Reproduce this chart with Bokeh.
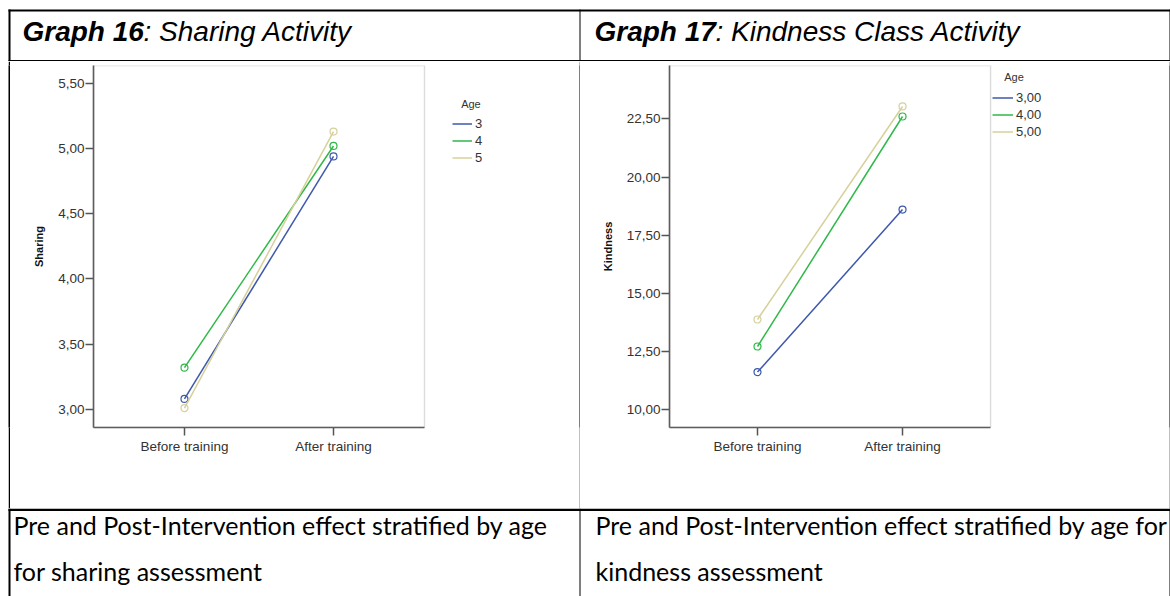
from bokeh.plotting import figure
from bokeh.layouts import column, row
from bokeh.models import (Range1d, FixedTicker, Legend, LegendItem,
                          BoxAnnotation, Label, CustomJSTickFormatter)
from bokeh.embed import file_html
from bokeh.resources import INLINE

# ---------------- data ----------------
phases = ["Before training", "After training"]

sharing_labels = ["3", "4", "5"]
sharing_age3 = [3.08, 4.94]
sharing_age4 = [3.32, 5.02]
sharing_age5 = [3.01, 5.13]
sharing_ticks = [3.0, 3.5, 4.0, 4.5, 5.0, 5.5]

kindness_labels = ["3,00", "4,00", "5,00"]
kindness_age3 = [11.62, 18.60]
kindness_age4 = [12.72, 22.60]
kindness_age5 = [13.88, 23.03]
kindness_ticks = [10.0, 12.5, 15.0, 17.5, 20.0, 22.5]

title_bold = ["Graph 16", "Graph 17"]
title_rest = [": Sharing Activity", ": Kindness Class Activity"]
captions_left = ["Pre and Post-Intervention effect stratified by age", "for sharing assessment"]
captions_right = ["Pre and Post-Intervention effect stratified by age for", "kindness assessment"]

age_colors = ["#3e58ac", "#2eb848", "#d6d19a"]

W = 1170
H_TITLE, H_CHART, H_CAP = 61, 447, 88
FONT = "Liberation Sans"
phase_pos = list(range(len(phases)))  # positions of the categories on the x scale


def blank(w, h):
    f = figure(width=w, height=h, x_range=Range1d(0, w), y_range=Range1d(0, h),
               x_axis_type=None, y_axis_type=None, toolbar_location=None,
               output_backend="svg", min_border=0, outline_line_color=None,
               background_fill_color="white", border_fill_color="white")
    f.xgrid.visible = False
    f.ygrid.visible = False
    return f


def hbox(f, h, x0, x1, y0, y1):
    # y0/y1 measured downward from top of the figure
    f.add_layout(BoxAnnotation(left=x0, right=x1, top=h - y0, bottom=h - y1,
                               fill_color="black", fill_alpha=1, line_color=None))


def sep(w, h):
    s = figure(width=w, height=h, x_range=Range1d(0, 1), y_range=Range1d(0, 1),
               x_axis_type=None, y_axis_type=None, toolbar_location=None,
               output_backend="svg", min_border=0, outline_line_color=None,
               background_fill_color="black", border_fill_color="black")
    s.xgrid.visible = False
    s.ygrid.visible = False
    return s


# ---------------- title row ----------------
t = blank(W, H_TITLE)
hbox(t, H_TITLE, 8, W, 9, 11)
hbox(t, H_TITLE, 8, 10, 9, H_TITLE)
hbox(t, H_TITLE, 579, 580, 9, H_TITLE)
hbox(t, H_TITLE, 1169, 1170, 9, H_TITLE)
hbox(t, H_TITLE, 8, W, 59.5, H_TITLE)
title_x = [22, 594]
bold_w = 121
for i in range(2):
    t.add_layout(Label(x=title_x[i], y=H_TITLE - 31, text=title_bold[i], text_font=FONT,
                       text_font_size="28px", text_font_style="bold italic",
                       text_color="black", text_baseline="middle"))
    t.add_layout(Label(x=title_x[i] + bold_w, y=H_TITLE - 31, text=title_rest[i], text_font=FONT,
                       text_font_size="28px", text_font_style="italic",
                       text_color="black", text_baseline="middle"))


# ---------------- charts ----------------
def chart(width, left_border, xr, x_plot_end, series, labels, ticks, yr, ylabel,
          leg_title, leg_gw, leg_loc, leg_standoff, mb):
    p = figure(width=width, height=H_CHART,
               x_range=Range1d(*xr), y_range=Range1d(*yr),
               output_backend="svg", toolbar_location=None,
               min_border_left=left_border, min_border_right=0, min_border_top=4,
               min_border_bottom=mb, background_fill_color="white",
               border_fill_color="white", outline_line_color=None)
    p.xgrid.visible = False
    p.ygrid.visible = False
    # visible plot-area box (the frame itself also hosts the legend on the right)
    p.add_layout(BoxAnnotation(left=xr[0], right=x_plot_end, bottom=yr[0], top=yr[1],
                               fill_alpha=0, line_color="#8c8c8c", line_width=1.4))
    for ax in (p.xaxis[0], p.yaxis[0]):
        ax.axis_line_color = "#555555"
        ax.axis_line_width = 1.6
        ax.major_tick_line_color = "#555555"
        ax.major_tick_line_width = 1.5
        ax.major_tick_out = 8
        ax.major_tick_in = 0
        ax.minor_tick_line_color = None
        ax.major_label_text_font = FONT
        ax.major_label_text_font_size = "13.5px"
        ax.major_label_text_color = "#333333"
    p.xaxis.bounds = (xr[0], x_plot_end)
    p.xaxis.ticker = FixedTicker(ticks=phase_pos)
    p.xaxis.major_label_overrides = {i: name for i, name in zip(phase_pos, phases)}
    p.yaxis.ticker = FixedTicker(ticks=ticks)
    p.yaxis.formatter = CustomJSTickFormatter(code="return tick.toFixed(2).replace('.', ',');")
    p.yaxis.major_label_standoff = 1
    p.xaxis.major_label_standoff = 3
    p.yaxis.axis_label = ylabel
    p.yaxis.axis_label_text_font = FONT
    p.yaxis.axis_label_text_font_size = "11px"
    p.yaxis.axis_label_text_font_style = "bold"
    p.yaxis.axis_label_text_color = "#111111"
    p.yaxis.axis_label_standoff = 10

    items = []
    for vals, lab, col in zip(series, labels, age_colors):
        r = p.line(x=phase_pos, y=vals, line_color=col, line_width=1.5)
        p.scatter(x=phase_pos, y=vals, marker="circle", size=7, fill_color=None,
                  line_color=col, line_width=1.2)
        items.append(LegendItem(label=lab, renderers=[r]))
    leg = Legend(items=items, location=leg_loc, title=leg_title,
                 title_text_font=FONT, title_text_font_size="11px",
                 title_text_font_style="normal", title_text_color="#333333",
                 title_standoff=leg_standoff, label_text_font=FONT,
                 label_text_font_size="13px", label_text_color="#333333",
                 glyph_width=leg_gw, glyph_height=17, label_height=17,
                 label_standoff=3, spacing=0, padding=0, margin=0,
                 border_line_color=None, background_fill_alpha=0)
    p.add_layout(leg)
    return p


c1 = chart(569, 83, (-0.6107, 2.651), 1.6107,
           [sharing_age3, sharing_age4, sharing_age5], sharing_labels, sharing_ticks,
           (2.861, 5.637), "Sharing", "\u00a0\u00a0\u00a0Age", 20, (359, 261), 5, 78)
c2 = chart(589, 89, (-0.6069, 2.841), 1.607,
           [kindness_age3, kindness_age4, kindness_age5], kindness_labels, kindness_ticks,
           (9.24, 24.79), "Kindness", "\u00a0\u00a0\u00a0\u00a0Age", 21, (323, 287), 6, 81)

chart_row = row(blank(8, H_CHART), sep(2, H_CHART), c1, sep(1, H_CHART), c2, sep(1, H_CHART))

# ---------------- caption row ----------------
cp = blank(W, H_CAP)
hbox(cp, H_CAP, 8, W, 0, 2.5)
hbox(cp, H_CAP, 8, 10, 0, H_CAP)
hbox(cp, H_CAP, 579, 580, 0, H_CAP)
hbox(cp, H_CAP, 1169, 1170, 0, H_CAP)
cap_x = [13, 595]
cap_y = [16, 62]
for cx, lines in zip(cap_x, [captions_left, captions_right]):
    for cy, txt in zip(cap_y, lines):
        cp.add_layout(Label(x=cx, y=H_CAP - cy, text=txt, text_font="Lato",
                            text_font_size="25px", text_color="black",
                            text_baseline="middle"))

layout = column(t, chart_row, cp)
open("out.html", "w").write(file_html(layout, INLINE))
